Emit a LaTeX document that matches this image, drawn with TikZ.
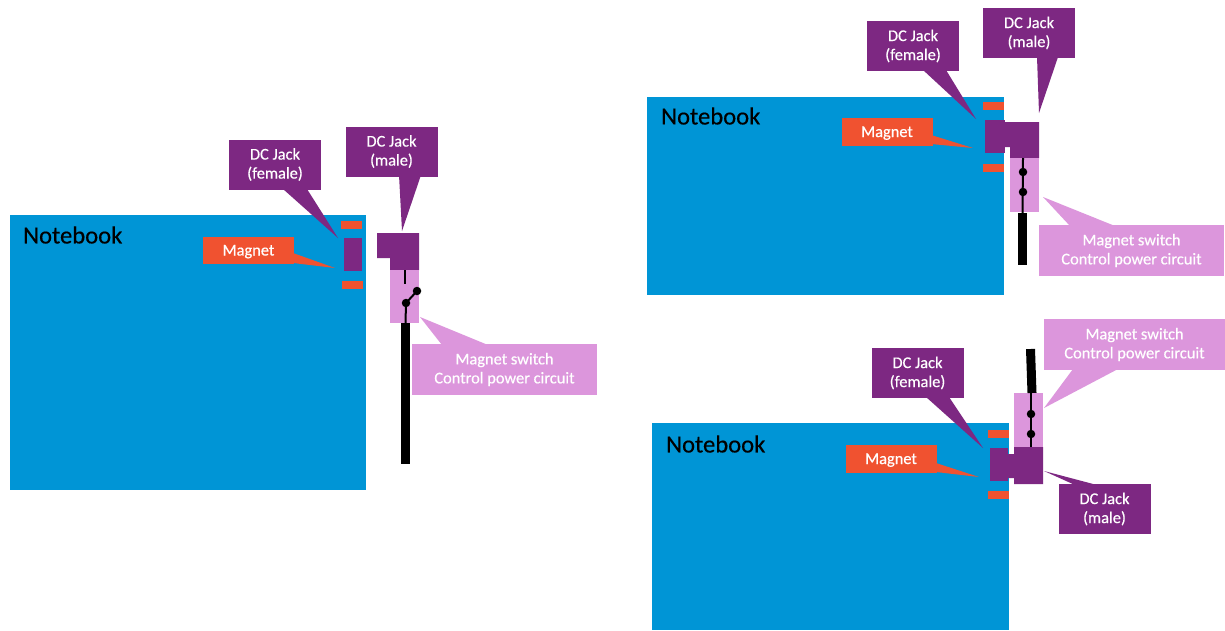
\documentclass[tikz,border=0pt]{standalone}
\usepackage{fontspec}
\setmainfont{Carlito}[BoldFont=Carlito,BoldFeatures={FakeBold=0.35}]
\usepackage{xcolor}
\definecolor{nbblue}{RGB}{0,149,214}
\definecolor{jackcol}{RGB}{125,40,130}
\definecolor{switchcol}{RGB}{220,150,220}
\definecolor{magcol}{RGB}{240,82,48}
\tikzset{
    lab/.style={
        font=\fontsize{16.4}{19}\selectfont\bfseries, text=white, align=center, inner sep=0pt
    }
}

\begin{document}
\begin{tikzpicture}[x=1pt,y=-1pt, line cap=butt, line join=miter]

\tikzset{
  nbook/.style={fill=nbblue, anchor=north west, inner sep=0pt},
  nbtext/.style={font=\fontsize{24.6}{30}\selectfont\bfseries, text=black, anchor=west, inner sep=0pt},
  jacklab/.style={lab, fill=jackcol, minimum width=92pt, minimum height=50pt},
  swlab/.style={lab, fill=switchcol, minimum width=185pt, minimum height=51pt},
  maglab/.style={lab, fill=magcol, minimum width=91pt, minimum height=27.5pt, text height=11pt, text depth=1pt},
  magbar/.style={fill=magcol, minimum width=21pt, minimum height=8pt, inner sep=0pt},
  femjack/.style={fill=jackcol, minimum width=18pt, minimum height=33pt, inner sep=0pt},
  swbox/.style={fill=switchcol, minimum width=29pt, minimum height=54pt, inner sep=0pt},
  dot/.style={circle, fill=black, minimum size=8.5pt, inner sep=0pt},
  wire/.style={draw=black, line width=2pt},
  cable/.style={draw=black, line width=9pt},
}

\useasboundingbox (0,0) rectangle (1225,630);
\fill[white] (0,0) rectangle (1225,630);

% left: unplugged
\node[nbook, minimum width=356pt, minimum height=275pt] (nbA) at (10,215) {};
\node[nbtext] (nbtextA) at (23,235) {Notebook};
\node[magbar] (magA1) at (351.5,224.5) {};
\node[magbar] (magA2) at (352.5,285) {};
\node[femjack] (femA) at (352.5,254.5) {};
\fill[jackcol] (377,233) -- (419,233) -- (419,270) -- (390,270) -- (390,258) -- (377,258) -- cycle;
\node[swbox, minimum height=53pt] (boxA) at (404.5,296.5) {};
\coordinate (wireA1) at (405,270);
\coordinate (wireA2) at (405,284);
\coordinate (cableA1) at (405.5,323);
\coordinate (cableA2) at (405.5,464);
\node[dot] (dotA1) at (406,303) {};
\node[dot] (dotA2) at (417,291) {};
\draw[wire] (wireA1) -- (wireA2);
\draw[wire] (dotA1.center) -- (dotA2.center);
\draw[wire] (dotA1.center) -- (cableA1);
\draw[cable] (cableA1) -- (cableA2);

\fill[jackcol] (283,189) -- (338,238) -- (307,189) -- cycle;
\fill[jackcol] (399,175) -- (402,231) -- (421,175) -- cycle;
\fill[magcol] (293,253) -- (335,268) -- (293,263) -- cycle;
\fill[switchcol] (442,345) -- (420,317) -- (488,345) -- cycle;
\node[jacklab] (femlabA) at (275,164.5) {DC Jack\\(female)};
\node[jacklab] (malelabA) at (391.5,151.5) {DC Jack\\(male)};
\node[maglab] (maglabA) at (248.5,250.5) {Magnet};
\node[swlab] (swlabA) at (504.5,369.5) {Magnet switch\\Control power circuit};

% top right: plugged, switch closed
\node[nbook, minimum width=357pt, minimum height=198pt] (nbB) at (647,97) {};
\node[nbtext] (nbtextB) at (661,116) {Notebook};
\node[magbar] (magB1) at (993.5,106) {};
\node[magbar] (magB2) at (993.5,168) {};
\node[femjack, minimum width=20pt] (femB) at (995,136.5) {};
\fill[jackcol] (1004,122) -- (1039,122) -- (1039,158) -- (1010,158) -- (1010,147) -- (1004,147) -- cycle;
\node[swbox] (boxB) at (1024.5,185) {};
\coordinate (wireB1) at (1023,158);
\coordinate (cableB1) at (1022.5,213);
\coordinate (cableB2) at (1022.5,265);
\node[dot] (dotB1) at (1023,172) {};
\node[dot] (dotB2) at (1023,192) {};
\draw[wire] (wireB1) -- (cableB1);
\draw[cable] (cableB1) -- (cableB2);

\fill[jackcol] (923,70) -- (976,119) -- (946,70) -- cycle;
\fill[jackcol] (1037,57) -- (1039,113) -- (1058,57) -- cycle;
\fill[magcol] (931,135) -- (973,148) -- (931,144) -- cycle;
\fill[switchcol] (1070,226) -- (1043,197) -- (1115,226) -- cycle;
\node[jacklab] (femlabB) at (913,46) {DC Jack\\(female)};
\node[jacklab] (malelabB) at (1029,33) {DC Jack\\(male)};
\node[maglab] (maglabB) at (887,132) {Magnet};
\node[swlab] (swlabB) at (1131.5,250.5) {Magnet switch\\Control power circuit};

% bottom right: plugged upside down
\node[nbook, minimum width=357pt, minimum height=207pt] (nbC) at (652,423) {};
\node[nbtext] (nbtextC) at (666,444) {Notebook};
\node[magbar] (magC1) at (998,433.5) {};
\node[magbar] (magC2) at (998.5,495) {};
\node[femjack] (femC) at (999,464.5) {};
\fill[jackcol] (1008,454) -- (1014,454) -- (1014,447) -- (1043,447) -- (1043,484) -- (1014,484) -- (1014,478) -- (1008,478) -- cycle;
\node[swbox] (boxC) at (1028.5,420) {};
\coordinate (wireC1) at (1031,393);
\coordinate (wireC2) at (1031,447);
\coordinate (cableC1) at (1032,393);
\coordinate (cableC2) at (1030.5,349);
\node[dot] (dotC1) at (1031,414) {};
\node[dot] (dotC2) at (1031,434) {};
\draw[wire] (wireC1) -- (wireC2);
\draw[cable] (cableC1) -- (cableC2);

\fill[jackcol] (926,397) -- (983,448) -- (949,397) -- cycle;
\fill[jackcol] (1044,471) -- (1097,485) -- (1075,485) -- cycle;
\fill[magcol] (936,463) -- (979,477) -- (936,472) -- cycle;
\fill[switchcol] (1073,369) -- (1044,408) -- (1118,369) -- cycle;
\node[jacklab] (femlabC) at (917.5,373) {DC Jack\\(female)};
\node[jacklab] (malelabC) at (1104.5,509) {DC Jack\\(male)};
\node[maglab] (maglabC) at (891,459) {Magnet};
\node[swlab, minimum width=181pt] (swlabC) at (1134.5,344.5) {Magnet switch\\Control power circuit};

\end{tikzpicture}
\end{document}
